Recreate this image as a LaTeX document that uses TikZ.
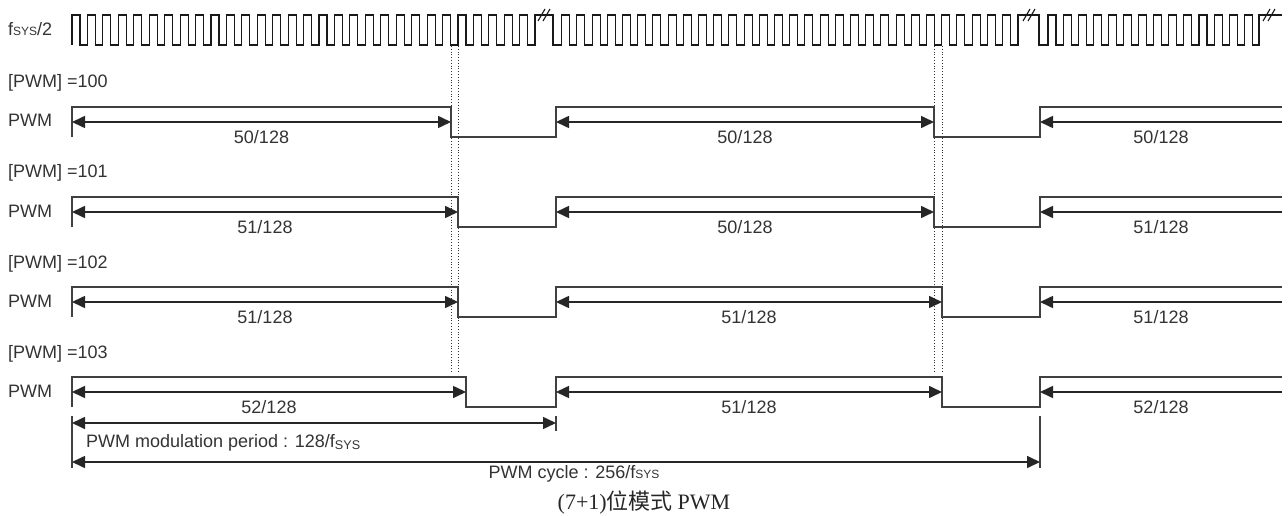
\documentclass[tikz,border=0pt]{standalone}
\usepackage{fontspec}
\setmainfont{Liberation Sans}
\newfontfamily\capfont{Liberation Serif}
\newfontfamily\cjk{Noto Sans CJK SC}
\usetikzlibrary{arrows.meta}

\begin{document}
\begin{tikzpicture}[x=1pt,y=-1pt,
  lbl/.style={font=\fontsize{18}{21}\selectfont, text=black!80, inner sep=0pt},
  wave/.style={line width=1.6pt, draw=black!75},
  clk/.style={line width=1.1pt, draw=black!90},
  guide/.style={line width=0.8pt, dotted, draw=black!80},
  dim/.style={line width=1.6pt, color=black!85, {Triangle[length=13pt,width=12pt]}-{Triangle[length=13pt,width=12pt]}},
  ldim/.style={line width=1.6pt, color=black!85, {Triangle[length=13pt,width=12pt]}-},
  tickline/.style={line width=1.6pt, draw=black!75}]
\useasboundingbox (0,0) rectangle (1288,516);

% clock
\node[lbl, anchor=base west] (clk) at (8,36) {f{\fontsize{12}{14}\selectfont SYS}/2};
\draw[clk] (72,45)
  \foreach \k in {0,...,29} { -- (72+15.44*\k,45) -- (72+15.44*\k,15) -- (80+15.44*\k,15) -- (80+15.44*\k,45) }
  -- (535,45) -- (535,15) -- (553,15) -- (553,45)
  \foreach \k in {0,...,29} { -- (561.7+15.2*\k,45) -- (561.7+15.2*\k,15) -- (569.7+15.2*\k,15) -- (569.7+15.2*\k,45) }
  -- (1018,45) -- (1018,15) -- (1039,15) -- (1039,45)
  \foreach \k in {0,...,13} { -- (1048+15.1*\k,45) -- (1048+15.1*\k,15) -- (1056+15.1*\k,15) -- (1056+15.1*\k,45) }
  -- (1259,45) -- (1259,15) -- (1282,15);
\draw[clk] (538,21) -- (545,9) (543,21) -- (550,9)
  (1023,21) -- (1030,9) (1028,21) -- (1035,9)
  (1263,21) -- (1270,9) (1268,21) -- (1275,9);

% guides
\foreach \gx in {451,458,934,942}
  \draw[guide] (\gx,46) -- (\gx,373);

% pwm rows
\foreach \val/\fa/\fb/\la/\lb/\lc [count=\i from 0] in
  {100/451/934/50/50/50, 101/458/934/51/50/51, 102/458/942/51/51/51, 103/466/942/52/51/52} {
  \pgfmathsetmacro{\yh}{107+90*\i}
  \node[lbl, anchor=base west] (reg\val) at (8,\yh-19) {[PWM] =\val};
  \node[lbl, anchor=base west] (sig\val) at (8,\yh+20) {PWM};
  \draw[wave] (72,\yh+30) -- (72,\yh) -- (\fa,\yh) -- (\fa,\yh+30) -- (556,\yh+30) -- (556,\yh)
    -- (\fb,\yh) -- (\fb,\yh+30) -- (1040,\yh+30) -- (1040,\yh) -- (1282,\yh);
  \coordinate (s\val) at (72,\yh+15);
  \coordinate (e\val) at (\fa,\yh+15);
  \coordinate (r\val) at (556,\yh+15);
  \coordinate (f\val) at (\fb,\yh+15);
  \coordinate (t\val) at (1040,\yh+15);
  \coordinate (z\val) at (1282,\yh+15);
  \path[dim]
    (s\val) edge node[lbl, anchor=base, yshift=-21pt] {\la/128} (e\val)
    (r\val) edge node[lbl, anchor=base, yshift=-21pt] {\lb/128} (f\val);
  \path[ldim]
    (t\val) edge node[lbl, anchor=base, yshift=-21pt] {\lc/128} (z\val);
}

% periods
\draw[tickline] (72,416) -- (72,468) (556,416) -- (556,431) (1040,416) -- (1040,468);
\coordinate (mod0) at (72,423);
\coordinate (mod1) at (556,423);
\coordinate (cyc0) at (72,462);
\coordinate (cyc1) at (1040,462);
\path[dim] (mod0) edge (mod1) (cyc0) edge (cyc1);
\node[lbl, anchor=base west] (modlbl) at (86,447) {PWM modulation period : 128/f\textsubscript{SYS}};
\node[lbl, anchor=base] (cyclbl) at (574,478) {PWM cycle : 256/f{\fontsize{12}{14}\selectfont SYS}};
\node[anchor=base, inner sep=0pt, font=\fontsize{22}{26}\selectfont, text=black!85] (cap) at (644,509)
  {\capfont(7+1)\cjk 位模式 \capfont PWM};
\end{tikzpicture}
\end{document}
